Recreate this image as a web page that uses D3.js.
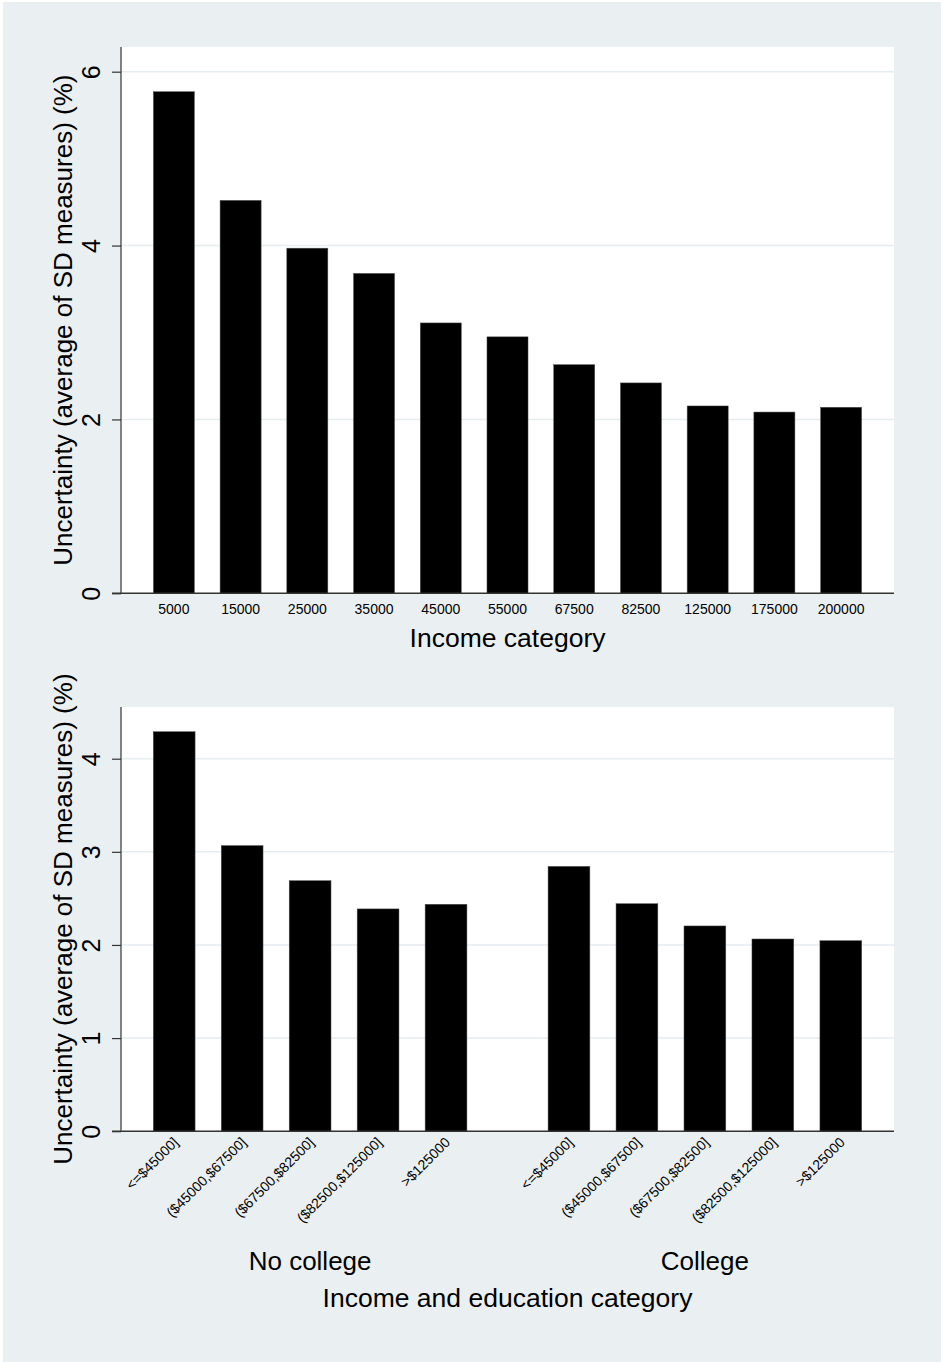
<!DOCTYPE html>
<html>
<head>
<meta charset="utf-8">
<script src="https://cdn.jsdelivr.net/npm/d3@7"></script>
<style>
  html, body { margin: 0; padding: 0; background: #ffffff; }
  svg { display: block; font-family: "Liberation Sans", Arial, Helvetica, sans-serif; }
</style>
</head>
<body>
<div id="chart"></div>
<script>
// ---------- data ----------
const incomeCategories = ["5000", "15000", "25000", "35000", "45000", "55000", "67500", "82500", "125000", "175000", "200000"];
const incomeUncertainty = [5.77, 4.52, 3.97, 3.68, 3.11, 2.95, 2.63, 2.42, 2.155, 2.085, 2.14];
const topTicks = [0, 2, 4, 6];

const educationGroups = ["No college", "College"];
const incomeBrackets = ["<=$45000]", "($45000,$67500]", "($67500,$82500]", "($82500,$125000]", ">$125000"];
const noCollegeUncertainty = [4.29, 3.067, 2.69, 2.387, 2.437];
const collegeUncertainty = [2.844, 2.443, 2.204, 2.064, 2.046];
const bottomTicks = [0, 1, 2, 3, 4];

const yTitle = "Uncertainty (average of SD measures) (%)";
const topXTitle = "Income category";
const bottomXTitle = "Income and education category";

// ---------- layout ----------
const W = 941, H = 1362;
const BG = "#eaf0f2", GRID = "#e5edf0", AXIS = "#333333";
const plotL = 121, plotR = 894;

const svg = d3.select("#chart").append("svg")
  .attr("width", W).attr("height", H);

svg.append("rect").attr("x", 3).attr("y", 2).attr("width", W - 3).attr("height", H - 2).attr("fill", BG);

function drawYAxis(g, y, ticks, top, bottom) {
  // gridlines
  g.append("g").selectAll("line").data(ticks.filter(t => t !== 0)).join("line")
    .attr("x1", plotL).attr("x2", plotR)
    .attr("y1", d => y(d)).attr("y2", d => y(d))
    .attr("stroke", GRID).attr("stroke-width", 1.5);
  const ax = g.append("g").attr("transform", `translate(${plotL},0)`)
    .call(d3.axisLeft(y).tickValues(ticks).tickSize(9).tickSizeOuter(0).tickFormat(d3.format("d")));
  ax.select(".domain").remove();
  ax.append("line").attr("x1", 0).attr("x2", 0).attr("y1", top).attr("y2", bottom)
    .attr("stroke", AXIS).attr("stroke-width", 1.2);
  ax.selectAll(".tick line").attr("stroke", AXIS).attr("stroke-width", 1.2);
  ax.selectAll(".tick text")
    .attr("x", null).attr("dy", null)
    .attr("transform", "translate(-21,0) rotate(-90)")
    .attr("text-anchor", "middle")
    .attr("fill", "#000")
    .style("font-size", "25px")
    .style("font-family", "Liberation Sans, Arial, sans-serif");
  g.append("text")
    .attr("transform", `translate(72,${(top + bottom) / 2}) rotate(-90)`)
    .attr("text-anchor", "middle")
    .style("font-size", "26px")
    .text(yTitle);
}

// ---------- top chart ----------
{
  const top = 47, bottom = 593.3;
  const g = svg.append("g");
  g.append("rect").attr("x", plotL).attr("y", top).attr("width", plotR - plotL).attr("height", bottom - top).attr("fill", "#fff");
  const y = d3.scaleLinear().domain([0, 6]).range([bottom, 71.7]);
  const x = d3.scaleBand().domain(incomeCategories).range([plotL, plotR])
    .paddingInner(0.385).paddingOuter(0.485);
  drawYAxis(g, y, topTicks, top, bottom);
  g.append("g").selectAll("rect").data(incomeCategories).join("rect")
    .attr("x", d => x(d)).attr("width", x.bandwidth())
    .attr("y", (d, i) => y(incomeUncertainty[i]))
    .attr("height", (d, i) => y(0) - y(incomeUncertainty[i]))
    .attr("fill", "#000").attr("stroke", "#555").attr("stroke-width", 0.5);
  const xa = g.append("g").attr("transform", `translate(0,${bottom})`)
    .call(d3.axisBottom(x).tickSize(0).tickSizeOuter(0));
  xa.select(".domain").remove();
  xa.append("line").attr("x1", plotL - 9).attr("x2", plotR).attr("y1", 0).attr("y2", 0)
    .attr("stroke", AXIS).attr("stroke-width", 1.5);
  xa.selectAll(".tick text").attr("y", 20.7).attr("dy", null).attr("fill", "#000")
    .style("font-size", "14px").style("font-family", "Liberation Sans, Arial, sans-serif");
  g.append("text").attr("x", (plotL + plotR) / 2).attr("y", 647.3)
    .attr("text-anchor", "middle").style("font-size", "26.5px").text(topXTitle);
}

// ---------- bottom chart ----------
{
  const top = 707, bottom = 1131.2;
  const g = svg.append("g");
  g.append("rect").attr("x", plotL).attr("y", top).attr("width", plotR - plotL).attr("height", bottom - top).attr("fill", "#fff");
  const y = d3.scaleLinear().domain([0, 4]).range([bottom, 758.7]);
  const xg = d3.scaleBand().domain(educationGroups).range([plotL, plotR])
    .paddingInner(0.042).paddingOuter(0);
  const xi = d3.scaleBand().domain(incomeBrackets).range([0, xg.bandwidth()])
    .paddingInner(0.385).paddingOuter(0.475);
  drawYAxis(g, y, bottomTicks, top, bottom);
  const series = [noCollegeUncertainty, collegeUncertainty];
  educationGroups.forEach((grp, gi) => {
    const gg = g.append("g").attr("transform", `translate(${xg(grp)},0)`);
    gg.selectAll("rect").data(incomeBrackets).join("rect")
      .attr("x", d => xi(d)).attr("width", xi.bandwidth())
      .attr("y", (d, i) => y(series[gi][i]))
      .attr("height", (d, i) => y(0) - y(series[gi][i]))
      .attr("fill", "#000").attr("stroke", "#555").attr("stroke-width", 0.5);
    gg.selectAll("text.lab").data(incomeBrackets).join("text")
      .attr("class", "lab")
      .attr("transform", d => `translate(${xi(d) + xi.bandwidth() / 2 + 5},${bottom + 12}) rotate(-45)`)
      .attr("text-anchor", "end")
      .style("font-size", "14px")
      .text(d => d);
    gg.append("text").attr("x", xg.bandwidth() / 2).attr("y", 1270)
      .attr("text-anchor", "middle").style("font-size", "26px").text(grp);
  });
  g.append("line").attr("x1", plotL - 9).attr("x2", plotR).attr("y1", bottom).attr("y2", bottom)
    .attr("stroke", AXIS).attr("stroke-width", 1.5);
  g.append("text").attr("x", (plotL + plotR) / 2).attr("y", 1306.7)
    .attr("text-anchor", "middle").style("font-size", "26.5px").text(bottomXTitle);
}
</script>
</body>
</html>
